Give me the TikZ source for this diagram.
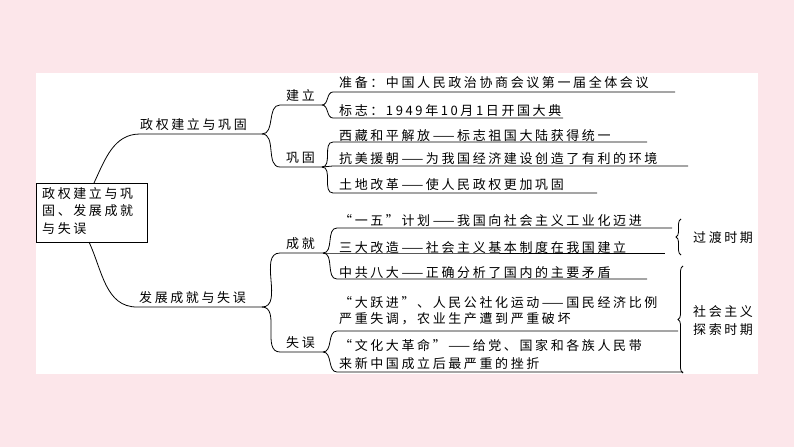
\documentclass[tikz,border=0pt]{standalone}
\usepackage{fontspec}
\newfontfamily\cjk[LetterSpace=20]{Noto Sans CJK SC}
\usetikzlibrary{decorations.pathreplacing}
\definecolor{bgpink}{RGB}{252,230,234}
\tikzset{
  t/.style={anchor=base west, inner sep=0pt, font=\cjk\fontsize{13}{17}\selectfont},
  ln/.style={line width=0.8pt, black},
  br/.style={line width=0.8pt, decorate, decoration={brace, amplitude=5pt}}
}
\begin{document}
\begin{tikzpicture}[x=1pt,y=-1pt]
\fill[bgpink] (0,0) rectangle (794,447);
\useasboundingbox (0,0) rectangle (794,447);
\fill[white] (36,73) rectangle (758,374);
% root
\node[draw, line width=0.8pt, inner sep=0pt, minimum width=111pt, minimum height=59pt] (root) at (91.5,212.5) {};
\node[t, anchor=north west, align=left, font=\cjk\fontsize{13}{17.5}\selectfont] (roottxt) at (42,187) {政权建立与巩\\固、发展成就\\与失误};
\coordinate (rt) at (94,183); \coordinate (rb) at (89,242);
\coordinate (A0) at (140,134); \coordinate (A1) at (262,134);
\coordinate (B0) at (137,307); \coordinate (B1) at (262,307);
\draw[ln] (rt) to[out=65,in=180] (A0) -- (A1);
\draw[ln] (rb) to[out=-65,in=180] (B0) -- (B1);
\node[t] (ta) at (140,129) {政权建立与巩固};
\node[t] (tb) at (139,302) {发展成就与失误};
% level 2
\coordinate (C0) at (280,105); \coordinate (C1) at (322,105);
\coordinate (D0) at (280,167); \coordinate (D1) at (322,167);
\coordinate (E0) at (280,253); \coordinate (E1) at (323,253);
\coordinate (F0) at (280,352); \coordinate (F1) at (323,352);
\draw[ln] (A1) to[out=0,in=180] (C0) -- (C1);
\draw[ln] (A1) to[out=0,in=180] (D0) -- (D1);
\draw[ln] (B1) to[out=0,in=180] (E0) -- (E1);
\draw[ln] (B1) to[out=0,in=180] (F0) -- (F1);
\node[t] (tc) at (286,100) {建立};
\node[t] (td) at (286,162) {巩固};
\node[t] (te) at (286,248) {成就};
\node[t] (tf) at (286,347) {失误};
% level 3
\coordinate (g1) at (333,92);  \coordinate (h1) at (675,92);
\coordinate (g2) at (333,118); \coordinate (h2) at (563,118);
\coordinate (g3) at (333,142); \coordinate (h3) at (647,142);
\coordinate (g4) at (333,166); \coordinate (h4) at (688,166);
\coordinate (g5) at (333,193); \coordinate (h5) at (597,193);
\coordinate (g6) at (337,228); \coordinate (h6) at (672,228);
\coordinate (g7) at (337,253); \coordinate (h7) at (665,253);
\coordinate (g8) at (337,279); \coordinate (h8) at (647,279);
\coordinate (g9) at (337,331); \coordinate (h9) at (678,331);
\coordinate (g10) at (337,372); \coordinate (h10) at (683,372);
\draw[ln] (C1) to[out=0,in=180] (g1) -- (h1);
\draw[ln] (C1) to[out=0,in=180] (g2) -- (h2);
\draw[ln] (D1) to[out=0,in=180] (g3) -- (h3);
\draw[ln] (D1) -- (g4) -- (h4);
\draw[ln] (D1) to[out=0,in=180] (g5) -- (h5);
\draw[ln] (E1) to[out=0,in=180] (g6) -- (h6);
\draw[ln] (E1) -- (g7) -- (h7);
\draw[ln] (E1) to[out=0,in=180] (g8) -- (h8);
\draw[ln] (F1) to[out=0,in=180] (g9) -- (h9);
\draw[ln] (F1) to[out=0,in=180] (g10) -- (h10);
\node[t] (x1) at (339,87) {准备：中国人民政治协商会议第一届全体会议};
\node[t] (x2) at (339,115) {标志：1949年10月1日开国大典};
\node[t] (x3) at (339,140) {西藏和平解放——标志祖国大陆获得统一};
\node[t] (x4) at (339,163) {抗美援朝——为我国经济建设创造了有利的环境};
\node[t] (x5) at (339,189) {土地改革——使人民政权更加巩固};
\node[t] (x6) at (339,225) {“一五”计划——我国向社会主义工业化迈进};
\node[t] (x7) at (339,252) {三大改造——社会主义基本制度在我国建立};
\node[t] (x8) at (339,277) {中共八大——正确分析了国内的主要矛盾};
\node[t] (x9) at (339,307) {“大跃进”、人民公社化运动——国民经济比例};
\node[t] (x9b) at (339,323) {严重失调，农业生产遭到严重破坏};
\node[t] (x10) at (339,350) {“文化大革命”——给党、国家和各族人民带};
\node[t] (x10b) at (339,368) {来新中国成立后最严重的挫折};
% braces
\coordinate (p1) at (681,219); \coordinate (p2) at (681,255);
\coordinate (q1) at (683,266); \coordinate (q2) at (683,373);
\draw[br] (p2) -- (p1);
\draw[br] (q2) -- (q1);
\node[t] (y1) at (693,242) {过渡时期};
\node[t] (y2) at (693,316) {社会主义};
\node[t] (y3) at (693,334) {探索时期};
\end{tikzpicture}
\end{document}
